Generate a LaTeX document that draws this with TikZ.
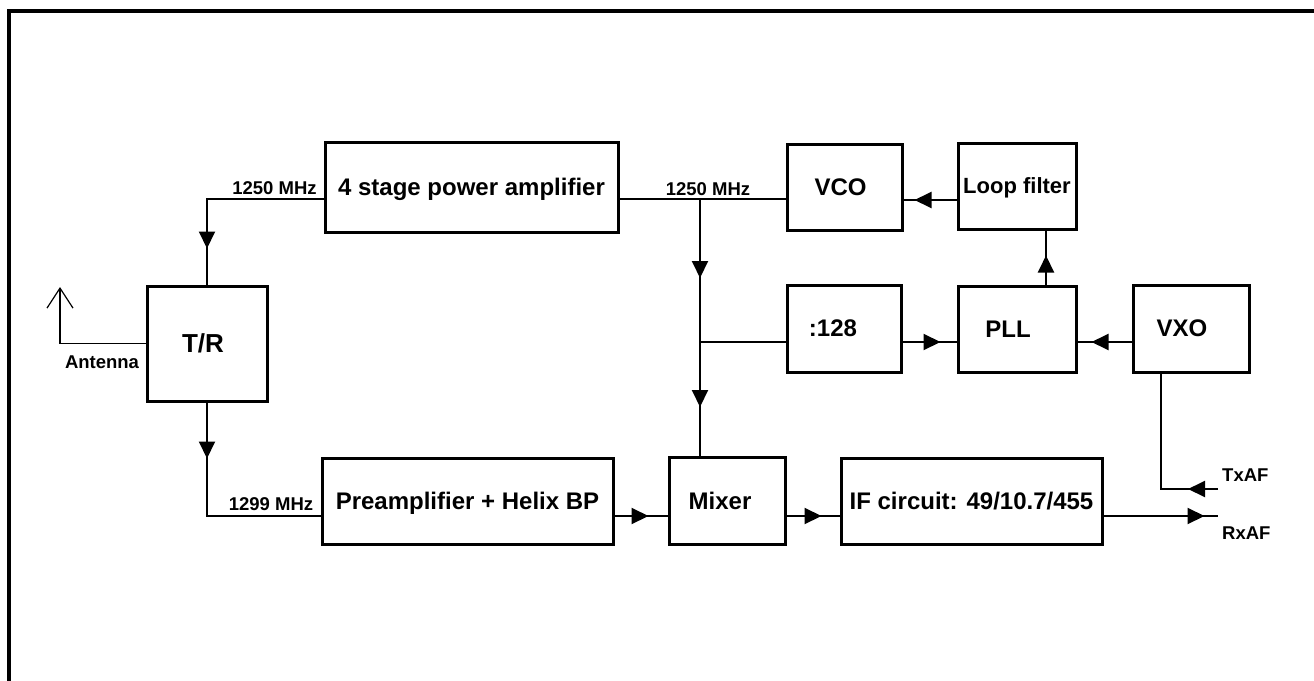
\documentclass[tikz,border=0pt]{standalone}
\usepackage{fontspec}
\setmainfont{Liberation Sans}
\usetikzlibrary{arrows.meta,decorations.markings}
\begin{document}
\begin{tikzpicture}[x=1pt,y=-1pt,
  box/.style={draw, line width=3pt, inner sep=0pt, text depth=0pt, font=\fontsize{24}{28}\selectfont\bfseries},
  small/.style={inner sep=0pt, text depth=0pt, font=\fontsize{18.5}{20}\selectfont\bfseries},
  conn/.style={line width=2pt},
  thinconn/.style={line width=1.2pt},
  arrowat/.style={postaction={decorate,decoration={markings,mark=at position #1 with {\arrow{Triangle[length=17pt,width=16pt]}}}}}
]
\useasboundingbox (0,0) rectangle (1314,680);
\clip (0,0) rectangle (1314,680);
\draw[line width=4.5pt] (9,11) rectangle (1340,700);

% boxes
\node[box, minimum width=293pt, minimum height=90pt] (pa) at (471.5,187) {4 stage power amplifier};
\node[box, minimum width=115pt, minimum height=86pt] (vco) at (844.5,187) {VCO\kern8pt};
\node[box, minimum width=118pt, minimum height=86pt, font=\fontsize{22}{26}\selectfont\bfseries] (loop) at (1017,186) {Loop filter};
\node[box, minimum width=114pt, minimum height=87pt] (d128) at (844,328.5) {:128\kern22pt};
\node[box, minimum width=118pt, minimum height=86pt] (pll) at (1017,329) {PLL\kern18pt};
\node[box, minimum width=116pt, minimum height=87pt] (vxo) at (1191,328.5) {VXO\kern18pt};
\node[box, minimum width=120pt, minimum height=115pt, font=\fontsize{26}{30}\selectfont\bfseries] (tr) at (207,343.5) {T/R\kern8pt};
\node[box, minimum width=291pt, minimum height=86pt] (pre) at (467.5,501) {Preamplifier + Helix BP};
\node[box, minimum width=116pt, minimum height=87pt] (mix) at (727,501) {Mixer\kern14pt};
\node[box, minimum width=261pt, minimum height=86pt] (if) at (971.5,501) {IF circuit: 49/10.7/455};

% labels
\node[small] (l1) at (274.5,188) {1250 MHz};
\node[small] (l2) at (708,189) {1250 MHz};
\node[small] (l3) at (271,504) {1299 MHz};
\node[small] (lant) at (102,362) {Antenna};
\node[small, anchor=west] (ltx) at (1222,475) {TxAF};
\node[small, anchor=west] (lrx) at (1222,533) {RxAF};

% coordinates
\coordinate (antc) at (60,287);
\coordinate (rx) at (1218,516);
\coordinate (tx) at (1218,489);
\coordinate (j1) at (700,199);
\coordinate (j2) at (700,342);
\coordinate (paw) at ([yshift=-12pt]pa.west);
\coordinate (pae) at ([yshift=-12pt]pa.east);
\coordinate (lw) at ([yshift=-14pt]loop.west);

% connectors
\draw[conn, arrowat=166pt] (paw) -| (tr.north);
\draw[thinconn, -{Straight Barb[length=20pt,width=26pt]}] (tr.west) -| (antc);
\draw[conn, arrowat=56pt] (tr.south) |- ([yshift=-15pt]pre.west);
\draw[conn, arrowat=34pt] ([yshift=-15pt]pre.east) -- ([yshift=-15pt]mix.west);
\draw[conn, arrowat=35pt] ([yshift=-15pt]mix.east) -- ([yshift=-15pt]if.west);
\draw[conn, arrowat=101pt] ([yshift=-15pt]if.east) -- (rx);
\draw[conn, arrowat=30pt] (tx) -| ([xshift=-30pt]vxo.south);
\draw[conn] (pae) -- (pae -| vco.west);
\draw[conn, arrowat=79pt, arrowat=208pt] (j1) -- (j1 |- mix.north);
\draw[conn] (j2) -- (j2 -| d128.west);
\draw[conn, arrowat=38pt] (j2 -| d128.east) -- (j2 -| pll.west);
\draw[conn, arrowat=40pt] (j2 -| vxo.west) -- (j2 -| pll.east);
\draw[conn, arrowat=29pt] ([xshift=29pt]pll.north) -- ([xshift=29pt]loop.south);
\draw[conn, arrowat=42pt] (lw) -- (lw -| vco.east);
\end{tikzpicture}
\end{document}
